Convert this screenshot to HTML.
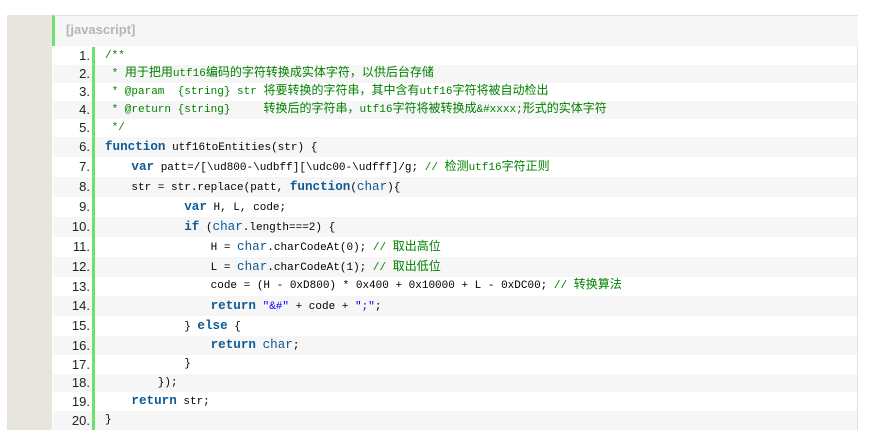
<!DOCTYPE html>
<html><head><meta charset="utf-8"><style>
body{margin:0;width:875px;height:438px;background:#fff;position:relative;overflow:hidden}
.beige{position:absolute;left:7px;top:15px;width:46px;height:415px;background:#e8e5de}
.box{position:absolute;left:52px;top:15px;width:805px;height:415px;border:1px solid #e2e2dc;border-left:none;border-bottom:none;background:#fff}
.hdr{position:absolute;left:52px;top:15px;width:806px;height:31px;background:#f6f6f6;border-top:1px solid #e2e2dc;border-left:3px solid #6ce26c;box-sizing:border-box}
.hdr span{position:absolute;left:11px;top:6px;font:bold 13px "Liberation Sans",sans-serif;color:#b5b5b5}
.code{position:absolute;left:53px;top:47px;width:804px}
.r{position:relative;white-space:pre;font:11px "Liberation Mono","Noto Sans CJK SC",monospace;color:#000;overflow:hidden}
.r:nth-child(even){background:#f6f6f6}
.n{position:absolute;left:0;top:0;width:37px;text-align:right;font-family:"Liberation Sans",sans-serif;font-size:13px;color:#222}
.bar{position:absolute;left:39px;top:0;bottom:0;width:3px;background:#6ce26c}
.t{position:absolute;left:52px;top:0}
.k{color:#0c5a96;font-weight:bold;font-size:12.6px}
.c{color:#008200}
.z{font-family:"Noto Sans CJK SC",sans-serif;font-size:12px;line-height:1}
.s{color:#0000ff}
.ch{color:#0c5a96;font-size:12.6px}
</style></head><body>
<div class="beige"></div>
<div class="box"></div>
<div class="hdr"><span>[javascript]</span></div>
<div class="code">
<div class="r" style="height:18px;line-height:18px"><span class="n">1.</span><span class="bar"></span><span class="t c">/**</span></div>
<div class="r" style="height:18px;line-height:18px"><span class="n">2.</span><span class="bar"></span><span class="t c"> * <span class="z">用于把用</span>utf16<span class="z">编码的字符转换成实体字符，以供后台存储</span></span></div>
<div class="r" style="height:18px;line-height:18px"><span class="n">3.</span><span class="bar"></span><span class="t c"> * @param  {string} str <span class="z">将要转换的字符串，其中含有</span>utf16<span class="z">字符将被自动检出</span></span></div>
<div class="r" style="height:18px;line-height:18px"><span class="n">4.</span><span class="bar"></span><span class="t c"> * @return {string}     <span class="z">转换后的字符串，</span>utf16<span class="z">字符将被转换成</span>&amp;#xxxx;<span class="z">形式的实体字符</span></span></div>
<div class="r" style="height:18px;line-height:18px"><span class="n">5.</span><span class="bar"></span><span class="t c"> */</span></div>
<div class="r" style="height:20px;line-height:20px"><span class="n">6.</span><span class="bar"></span><span class="t"><span class="k">function</span> utf16toEntities(str) {</span></div>
<div class="r" style="height:20px;line-height:20px"><span class="n">7.</span><span class="bar"></span><span class="t">    <span class="k">var</span> patt=/[\ud800-\udbff][\udc00-\udfff]/g; <span class="c">// <span class="z">检测</span>utf16<span class="z">字符正则</span></span></span></div>
<div class="r" style="height:20px;line-height:20px"><span class="n">8.</span><span class="bar"></span><span class="t">    str = str.replace(patt, <span class="k">function</span>(<span class="ch">char</span>){</span></div>
<div class="r" style="height:20px;line-height:20px"><span class="n">9.</span><span class="bar"></span><span class="t">            <span class="k">var</span> H, L, code;</span></div>
<div class="r" style="height:20px;line-height:20px"><span class="n">10.</span><span class="bar"></span><span class="t">            <span class="k">if</span> (<span class="ch">char</span>.length===2) {</span></div>
<div class="r" style="height:20px;line-height:20px"><span class="n">11.</span><span class="bar"></span><span class="t">                H = <span class="ch">char</span>.charCodeAt(0); <span class="c">// <span class="z">取出高位</span></span></span></div>
<div class="r" style="height:20px;line-height:20px"><span class="n">12.</span><span class="bar"></span><span class="t">                L = <span class="ch">char</span>.charCodeAt(1); <span class="c">// <span class="z">取出低位</span></span></span></div>
<div class="r" style="height:19px;line-height:19px"><span class="n">13.</span><span class="bar"></span><span class="t">                code = (H - 0xD800) * 0x400 + 0x10000 + L - 0xDC00; <span class="c">// <span class="z">转换算法</span></span></span></div>
<div class="r" style="height:20px;line-height:20px"><span class="n">14.</span><span class="bar"></span><span class="t">                <span class="k">return</span> <span class="s">"&amp;#"</span> + code + <span class="s">";"</span>;</span></div>
<div class="r" style="height:20px;line-height:20px"><span class="n">15.</span><span class="bar"></span><span class="t">            } <span class="k">else</span> {</span></div>
<div class="r" style="height:19px;line-height:19px"><span class="n">16.</span><span class="bar"></span><span class="t">                <span class="k">return</span> <span class="ch">char</span>;</span></div>
<div class="r" style="height:19px;line-height:19px"><span class="n">17.</span><span class="bar"></span><span class="t">            }</span></div>
<div class="r" style="height:18px;line-height:18px"><span class="n">18.</span><span class="bar"></span><span class="t">        });</span></div>
<div class="r" style="height:19px;line-height:19px"><span class="n">19.</span><span class="bar"></span><span class="t">    <span class="k">return</span> str;</span></div>
<div class="r" style="height:19px;line-height:19px"><span class="n">20.</span><span class="bar"></span><span class="t">}</span></div>
</div>
</body></html>
